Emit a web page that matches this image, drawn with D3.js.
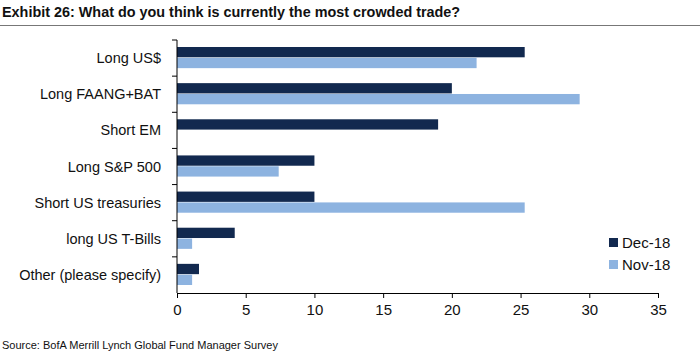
<!DOCTYPE html>
<html>
<head>
<meta charset="utf-8">
<script src="https://cdn.jsdelivr.net/npm/d3@7"></script>
<style>
  body { margin: 0; background: #fff; }
  svg { display: block; font-family: "Liberation Sans", Arial, sans-serif; }
</style>
</head>
<body>
<svg id="chart"></svg>
<script>
var categories = ["Long US$", "Long FAANG+BAT", "Short EM", "Long S&P 500", "Short US treasuries", "long US T-Bills", "Other (please specify)"];
var seriesNames = ["Dec-18", "Nov-18"];
var dec18 = [25.3, 20.0, 19.0, 10.0, 10.0, 4.2, 1.6];
var nov18 = [21.8, 29.3, 0, 7.4, 25.3, 1.1, 1.1];
var xTicks = [0, 5, 10, 15, 20, 25, 30, 35];
var colors = ["#12294f", "#8db3e0"];

var width = 700, height = 354;
var margin = { left: 177, top: 40, right: 42, bottom: 61 };

var svg = d3.select("#chart").attr("width", width).attr("height", height);

// title + rule
svg.append("text")
  .attr("x", 2).attr("y", 17)
  .style("font-size", "14.4px").style("font-weight", "bold").style("fill", "#111")
  .text("Exhibit 26: What do you think is currently the most crowded trade?");
svg.append("line")
  .attr("x1", 0).attr("x2", width).attr("y1", 25.5).attr("y2", 25.5)
  .style("stroke", "#777").style("stroke-width", 1);

var x = d3.scaleLinear().domain([0, 35]).range([margin.left, width - margin.right]);
var y = d3.scaleBand().domain(categories).range([margin.top, height - margin.bottom]);
var inner = d3.scaleBand().domain(seriesNames).range([7, y.bandwidth() - 8]).paddingInner(0.05);

var rows = categories.map(function (c, i) { return { cat: c, vals: [dec18[i], nov18[i]] }; });

var g = svg.append("g").selectAll("g").data(rows).join("g")
  .attr("transform", function (d) { return "translate(0," + y(d.cat) + ")"; });

g.selectAll("rect").data(function (d) { return d.vals; }).join("rect")
  .attr("x", x(0))
  .attr("y", function (d, i) { return inner(seriesNames[i]); })
  .attr("height", inner.bandwidth())
  .attr("width", function (d) { return x(d) - x(0); })
  .style("fill", function (d, i) { return colors[i]; });

// y axis: band boundary ticks
var yAxisG = svg.append("g");
yAxisG.append("line")
  .attr("x1", x(0)).attr("x2", x(0))
  .attr("y1", margin.top).attr("y2", height - margin.bottom)
  .style("stroke", "#000");
var bounds = categories.map(function (c) { return y(c); });
yAxisG.selectAll(".yt").data(bounds).join("line")
  .attr("x1", x(0) - 5).attr("x2", x(0))
  .attr("y1", function (d) { return d; }).attr("y2", function (d) { return d; })
  .style("stroke", "#000");
yAxisG.selectAll(".yl").data(categories).join("text")
  .attr("x", 161)
  .attr("y", function (d) { return y(d) + y.bandwidth() / 2; })
  .attr("dy", "0.35em")
  .attr("text-anchor", "end")
  .style("font-size", "14.5px").style("fill", "#111")
  .text(function (d) { return d; });

// x axis
var xAxis = d3.axisBottom(x).tickValues(xTicks).tickSize(5).tickPadding(6);
var xg = svg.append("g")
  .attr("transform", "translate(0," + (height - margin.bottom) + ")")
  .call(xAxis);
xg.select(".domain").style("stroke", "#000");
xg.selectAll(".tick line").style("stroke", "#000");
xg.selectAll("text").style("font-size", "15px").style("fill", "#111")
  .style("font-family", "\"Liberation Sans\", Arial, sans-serif");

// legend
var legend = svg.append("g").attr("transform", "translate(609,236)");
var li = legend.selectAll("g").data(seriesNames).join("g")
  .attr("transform", function (d, i) { return "translate(0," + (i * 22) + ")"; });
li.append("rect").attr("width", 9).attr("height", 9).attr("y", 2)
  .style("fill", function (d, i) { return colors[i]; });
li.append("text").attr("x", 13).attr("y", 7).attr("dy", "0.35em")
  .style("font-size", "15px").style("fill", "#111")
  .text(function (d) { return d; });

// source
svg.append("text")
  .attr("x", 2).attr("y", 349)
  .style("font-size", "11px").style("fill", "#111")
  .text("Source: BofA Merrill Lynch Global Fund Manager Survey");
</script>
</body>
</html>
